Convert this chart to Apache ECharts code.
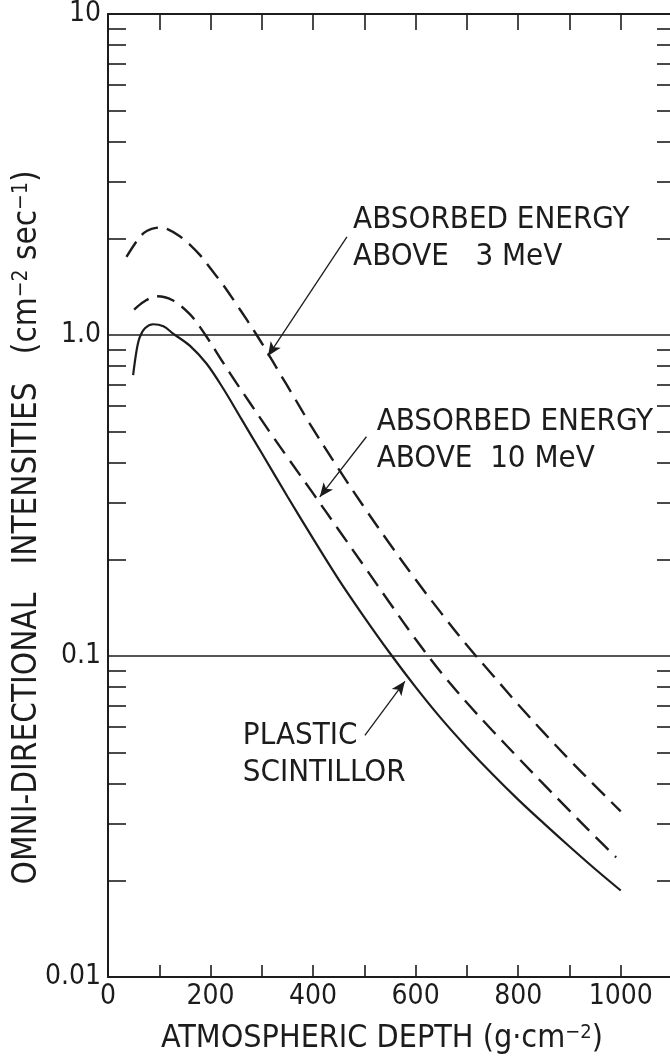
<!DOCTYPE html>
<html><head><meta charset="utf-8">
<script src="https://cdn.jsdelivr.net/npm/echarts@6/dist/echarts.min.js"></script>
<style>html,body{margin:0;padding:0;background:#fff}#chart{width:670px;height:1060px}</style>
</head><body><div id="chart"></div>
<script>
// ---- data ----
const plasticDepth = [49, 56, 62, 72, 88, 108, 127, 160, 192, 225, 260, 300, 350, 400, 450, 500, 550, 600, 650, 700, 750, 800, 850, 900, 950, 1000];
const plasticIntensity = [0.75, 0.90, 0.985, 1.05, 1.08, 1.065, 1.01, 0.925, 0.815, 0.68, 0.548, 0.428, 0.314, 0.232, 0.173, 0.132, 0.102, 0.080, 0.0638, 0.0519, 0.0428, 0.0357, 0.0301, 0.0255, 0.0217, 0.0186];

const mev10Depth = [51, 70, 95, 125, 160, 190, 225, 250, 277, 300, 318, 350, 400, 450, 500, 550, 600, 650, 700, 750, 800, 850, 900, 950, 991];
const mev10Intensity = [1.20, 1.27, 1.32, 1.285, 1.159, 1.0, 0.818, 0.711, 0.614, 0.542, 0.492, 0.416, 0.321, 0.247, 0.190, 0.146, 0.1127, 0.0887, 0.0715, 0.0585, 0.0482, 0.0398, 0.0330, 0.0274, 0.0236];

const mev3Depth = [36, 56, 70, 85, 100, 115, 140, 160, 180, 200, 225, 250, 270, 290, 310, 335, 360, 394, 450, 500, 550, 600, 650, 700, 750, 800, 850, 900, 950, 1000];
const mev3Intensity = [1.75, 1.96, 2.08, 2.14, 2.16, 2.14, 2.03, 1.91, 1.77, 1.61, 1.43, 1.25, 1.12, 1.0, 0.887, 0.760, 0.652, 0.528, 0.382, 0.290, 0.223, 0.173, 0.136, 0.108, 0.0873, 0.0706, 0.0577, 0.0475, 0.0394, 0.0328];

// ticks and labels
const xLabelValues = [0, 200, 400, 600, 800, 1000];
const yDecades = [0.01, 0.1, 1, 10];
const yTickLabels = ['0.01', '0.1', '1.0', '10'];
const minorMultipliers = [2, 3, 4, 5, 6, 7, 8, 9];
const referenceLines = [1, 0.1];

// annotations (data coordinates)
const annotationTexts = [
  { text: 'ABSORBED ENERGY\nABOVE   3 MeV', at: [478, 2.0] },
  { text: 'ABSORBED ENERGY\nABOVE  10 MeV', at: [524, 0.469] },
  { text: 'PLASTIC\nSCINTILLOR', at: [263, 0.0494] }
];
const annotationArrows = [
  { from: [466, 2.02], to: [312, 0.86] },
  { from: [504, 0.482], to: [413, 0.313] },
  { from: [501, 0.0566], to: [579, 0.0834] }
];

// ---- build ----
const INK = '#1c1c1c';
const FONT = "'DejaVu Sans Condensed','Liberation Sans Narrow','DejaVu Sans',sans-serif";
const zip = (xs, ys) => xs.map((x, i) => [x, ys[i]]);
const minorTickValues = yDecades.slice(0, -1).flatMap(d => minorMultipliers.map(m => +(d * m).toPrecision(3)));
const supRich = { sup: { fontSize: 20, fontFamily: FONT, color: INK, verticalAlign: 'top' } };

const chart = echarts.init(document.getElementById('chart'), null, { renderer: 'canvas' });

const baseX = { type: 'value', min: 0, max: 1100, interval: 100, splitLine: { show: false } };
const baseY = { type: 'log', logBase: 10, min: 0.01, max: 10 };

chart.setOption({
  backgroundColor: '#ffffff',
  animation: false,
  grid: { left: 108, top: 14, width: 564, height: 963, containLabel: false, outerBoundsMode: 'none' },
  xAxis: [
    Object.assign({}, baseX, {
      position: 'bottom',
      axisLine: { show: true, onZero: false, lineStyle: { color: INK, width: 2 } },
      axisTick: { show: true, inside: true, length: 12, lineStyle: { color: INK, width: 1.6 } },
      axisLabel: { show: true, margin: 6, color: INK, fontFamily: FONT, fontSize: 28,
        formatter: v => xLabelValues.includes(v) ? String(v) : '' },
      name: 'ATMOSPHERIC DEPTH (g·cm{sup|−2})',
      nameLocation: 'middle', nameGap: 46,
      nameTextStyle: { color: INK, fontFamily: FONT, fontSize: 32, rich: supRich, padding: [0, 16, 0, 0] }
    }),
    Object.assign({}, baseX, {
      position: 'top',
      axisLine: { show: true, onZero: false, lineStyle: { color: INK, width: 2 } },
      axisTick: { show: true, inside: true, length: 16, lineStyle: { color: INK, width: 1.6 } },
      axisLabel: { show: false }
    })
  ],
  yAxis: [
    Object.assign({}, baseY, {
      position: 'left',
      axisLine: { show: true, onZero: false, lineStyle: { color: INK, width: 2 } },
      axisTick: { show: true, inside: true, length: 18, customValues: minorTickValues, lineStyle: { color: INK, width: 1.6 } },
      axisLabel: { show: true, margin: 7, color: INK, fontFamily: FONT, fontSize: 28,
        formatter: v => yTickLabels[Math.round(Math.log10(v)) + 2] },
      splitLine: { show: false },
      name: 'OMNI-DIRECTIONAL   INTENSITIES   (cm{sup|−2} sec{sup|−1})',
      nameLocation: 'middle', nameGap: 64, nameMoveOverlap: false,
      nameTextStyle: { color: INK, fontFamily: FONT, fontSize: 33, rich: { sup: { fontSize: 21, fontFamily: FONT, color: INK, verticalAlign: 'top' } }, padding: [0, 64, 0, 0] }
    }),
    Object.assign({}, baseY, {
      position: 'right',
      axisLine: { show: true, onZero: false, lineStyle: { color: INK, width: 2 } },
      axisTick: { show: true, inside: true, length: 15, customValues: minorTickValues, lineStyle: { color: INK, width: 1.6 } },
      axisLabel: { show: false },
      splitLine: { show: false }
    })
  ],
  series: [
    {
      name: 'PLASTIC SCINTILLOR', type: 'line', xAxisIndex: 0, yAxisIndex: 0,
      data: zip(plasticDepth, plasticIntensity), smooth: 0.35, showSymbol: false, symbol: 'none',
      lineStyle: { color: INK, width: 2.2, type: 'solid' }, silent: true,
      markLine: {
        silent: true, symbol: ['none', 'arrow'], symbolSize: [9, 14],
        label: { show: false },
        lineStyle: { color: INK, width: 1.3, type: 'solid' },
        data: [
          ...referenceLines.map(v => [{ coord: [0, v], symbol: 'none' }, { coord: [1100, v], symbol: 'none', lineStyle: { width: 1.5 } }]),
          ...annotationArrows.map(a => [{ coord: a.from }, { coord: a.to }])
        ]
      },
      markPoint: {
        silent: true, symbol: 'circle', symbolSize: 0,
        label: { show: true, position: 'right', distance: 0, color: INK, fontFamily: FONT, fontSize: 31, lineHeight: 37, align: 'left' },
        data: annotationTexts.map(t => ({ coord: t.at, value: t.text, label: { formatter: t.text } }))
      }
    },
    {
      name: 'ABOVE 10 MeV', type: 'line', xAxisIndex: 0, yAxisIndex: 0,
      data: zip(mev10Depth, mev10Intensity), smooth: 0.35, showSymbol: false, symbol: 'none',
      lineStyle: { color: INK, width: 2.4, type: [18, 9] }, silent: true
    },
    {
      name: 'ABOVE 3 MeV', type: 'line', xAxisIndex: 0, yAxisIndex: 0,
      data: zip(mev3Depth, mev3Intensity), smooth: 0.35, showSymbol: false, symbol: 'none',
      lineStyle: { color: INK, width: 2.4, type: [18, 9] }, silent: true
    }
  ]
});
</script>
</body></html>
